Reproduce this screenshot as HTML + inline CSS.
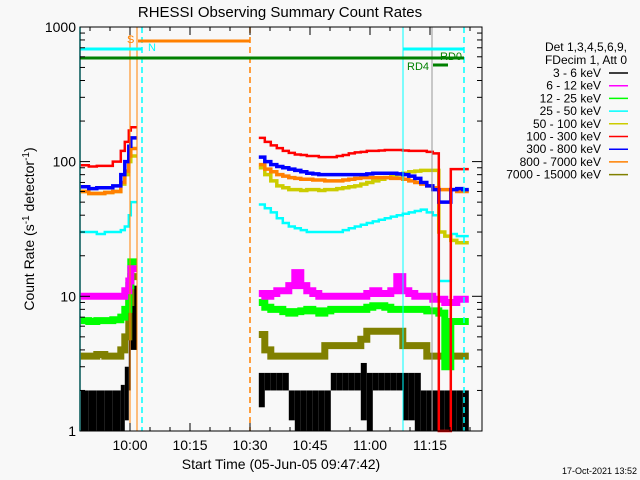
<!DOCTYPE html>
<html><head><meta charset="utf-8"><style>
body{margin:0;background:#f8f8f8;}
svg{display:block;font-family:"Liberation Sans",sans-serif;}
</style></head><body>
<svg id="chart" width="640" height="480" viewBox="0 0 640 480">
<rect width="640" height="480" fill="#f8f8f8"/>
<text x="280" y="17" font-size="15" text-anchor="middle" fill="#000">RHESSI Observing Summary Count Rates</text>
<g id="plot"></g>
<g id="axes"></g>
<text x="0" y="0" font-size="14" text-anchor="middle" transform="translate(34,229) rotate(-90)">Count Rate (s<tspan dy="-5" font-size="10">-1</tspan><tspan dy="5"> detector</tspan><tspan dy="-5" font-size="10">-1</tspan><tspan dy="5">)</tspan></text>
<text x="281" y="469" font-size="14" text-anchor="middle">Start Time (05-Jun-05 09:47:42)</text>
<text x="637" y="474" font-size="9" text-anchor="end">17-Oct-2021 13:52</text>
<g id="legend"></g>
</svg>
<script>
const tA=[0,2,4,6,8,10,11,12,12.5];
const tB=[];for(let i=0;i<35;i++)tB.push(44.5+1.5*i);
const redA=[94,92,93,93,100,120,140,170,180];
const blueA=[65,63,64,64,66,80,100,130,150];
const orangeA=[60,58,58,59,60,70,85,110,125];
const yellowA=[60,58,58,59,60,68,80,100,110];
const cyanA=[30,30,29,30,30,31,33,40,50];
const magentaA=[10,10,10,10,10,10,11,13,16];
const greenA=[6.6,6.5,6.6,6.6,6.7,7,8,12,18];
const oliveA=[3.6,3.6,3.7,3.6,3.6,4,5,9,14];
const blackHiA=[2,2,2,2,2,2.2,3,6,12];
const blackLoA=[1,1,1,1,1,1,1.2,2,4];
const redB=[150,140,132,126,120,116,113,112,110,110,108,108,108,110,112,115,117,118,120,120,121,122,122,122,121,120,120,120,118,115,1,1,88,88,88];
const blueB=[108,100,95,92,90,88,86,84,82,81,80,80,80,80,80,80,80,80,81,82,82,82,82,81,80,78,75,70,66,62,50,50,62,63,62];
const orangeB=[95,88,84,80,78,76,75,74,74,73,73,72,72,72,73,74,75,76,76,76,76,76,75,75,74,72,70,68,66,64,62,62,62,60,60];
const yellowB=[90,80,72,66,64,62,62,61,62,62,61,62,62,63,64,65,66,68,70,72,74,76,78,80,82,84,85,86,86,86,30,28,26,25,25];
const cyanB=[48,45,42,38,35,33,32,31,30,30,30,30,30,30,31,32,33,34,35,36,37,38,39,40,41,42,43,44,42,40,13,13,29,28,28];
const magentaB=[10.5,10,10.5,11,11,12,15,12,11,10.5,10,10,10,10,10,10,10,10,10.5,11,10.5,10.5,11,14,11,10.5,10,10,10,9.5,9.5,9,9,9.5,9.5];
const greenB=[9,8.3,8,8,7.7,7.5,7.7,7.8,8,7.8,7.5,7.8,8,8,8,8,8,8,8.3,8.5,8.5,8.3,8,8,8,8,8,8,7.8,7.8,7.5,3,6.5,6.5,6.5];
const oliveB=[5.2,4,3.6,3.6,3.6,3.6,3.6,3.6,3.6,3.6,3.6,4.3,4.3,4.3,4.3,4.3,4.3,4.8,5.5,5.5,5.5,5.5,5.5,5.5,4.3,4.3,4.3,4.3,3.6,3.6,3.6,3.6,3.6,3.6,3.6];
const blackHiB=[2.7,2.7,2.7,2.7,2.7,2,2,2,2,2,2,2,2.7,2.7,2.7,2.7,2.7,3.2,2.7,2.7,2.7,2.7,2.7,2.7,2.7,2.7,2.7,2,2,2,2,2,2,2,2];
const blackLoB=[1.5,2,2,2,2,1.2,1,1,1,1,1,1,2,2,2,2,2,1.2,1,2,2,2,2,2,1.2,1.2,1,1,1,1,1,1,1,1,1];
const yTickLabels=["1","10","100","1000"];
const xTickLabels=["10:00","10:15","10:30","10:45","11:00","11:15"];
const legendLabels=["3 - 6 keV","6 - 12 keV","12 - 25 keV","25 - 50 keV","50 - 100 keV","100 - 300 keV","300 - 800 keV","800 - 7000 keV","7000 - 15000 keV"];
const legendColors=["#000000","#ff00ff","#00ff00","#00ffff","#cccc00","#ff0000","#0000ff","#ff8000","#808000"];

const NS="http://www.w3.org/2000/svg";
const L=80,R=482,T=27,B=431;
const xs=t=>80.8+4*t;
const ys=v=>B-134.7*Math.log10(v);
const plot=document.getElementById('plot'),axes=document.getElementById('axes'),leg=document.getElementById('legend');
function mk(tag,attrs,parent){const e=document.createElementNS(NS,tag);for(const k in attrs)e.setAttribute(k,attrs[k]);parent.appendChild(e);return e;}
function step(ts,vs,color,w,name){
  let d='';
  for(let i=0;i<ts.length;i++){const x=xs(ts[i]),y=Math.min(B,ys(vs[i]));
    const x2=i<ts.length-1?xs(ts[i+1]):x+6;
    d+=(i?'L':'M')+x+','+y+'L'+x2+','+y;}
  const p=mk('path',{d:d,fill:'none',stroke:color,'stroke-width':w},plot);
  
  
}
function band(ts,lo,hi,color,name){
  const g=mk('g',{},plot);
  
  
  for(let i=0;i<ts.length;i++){const x=xs(ts[i]);const x2=i<ts.length-1?xs(ts[i+1]):x+6;
    const y1=ys(hi[i]),y2=Math.min(B,ys(lo[i]));
    mk('rect',{x:x,y:y1,width:x2-x,height:Math.max(1,y2-y1),fill:color},g);}
}
[[tA,blackLoA,blackHiA,'a'],[tB,blackLoB,blackHiB,'b']].forEach(s=>band(s[0],s[1],s[2],'#000','black-3-6kev-'+s[3]));
[['olive',oliveA,oliveB,'#808000',7],['green',greenA,greenB,'#00ff00',7],['magenta',magentaA,magentaB,'#ff00ff',7],
 ['cyan',cyanA,cyanB,'#00ffff',2.5],['yellow',yellowA,yellowB,'#cccc00',3.5],['orange',orangeA,orangeB,'#ff8000',3.5],
 ['blue',blueA,blueB,'#0000ff',3.5],['red',redA,redB,'#ff0000',2.5]].forEach(s=>{
  step(tA,s[1],s[3],s[4],s[0]+'-series-a');step(tB,s[2],s[3],s[4],s[0]+'-series-b');});
const ann=[['line',{x1:80,y1:T,x2:80,y2:B,stroke:'#00ffff','stroke-width':1.5},'cyan-line-1'],
['line',{x1:403,y1:T,x2:403,y2:B,stroke:'#00ffff','stroke-width':1},'cyan-line-2'],
['line',{x1:142,y1:T,x2:142,y2:B,stroke:'#00ffff','stroke-width':1.5,'stroke-dasharray':'6,4'},'cyan-dash-1'],
['line',{x1:464,y1:T,x2:464,y2:B,stroke:'#00ffff','stroke-width':1.5,'stroke-dasharray':'6,4'},'cyan-dash-2'],
['line',{x1:130,y1:T,x2:130,y2:B,stroke:'#ff8000','stroke-width':1},'orange-line-1'],
['line',{x1:137,y1:T,x2:137,y2:B,stroke:'#ff8000','stroke-width':1},'orange-line-2'],
['line',{x1:250,y1:T,x2:250,y2:B,stroke:'#ff8000','stroke-width':1.5,'stroke-dasharray':'6,4'},'orange-dash'],
['line',{x1:432,y1:T,x2:432,y2:B,stroke:'#999','stroke-width':1},'gray-line'],
['line',{x1:138,y1:41,x2:250,y2:41,stroke:'#ff8000','stroke-width':3},'saa-bar'],
['line',{x1:80,y1:49,x2:142,y2:49,stroke:'#00ffff','stroke-width':3},'night-bar-1'],
['line',{x1:403,y1:49,x2:464,y2:49,stroke:'#00ffff','stroke-width':3},'night-bar-2'],
['line',{x1:80,y1:58,x2:464,y2:58,stroke:'#008000','stroke-width':3},'rd0-bar'],
['line',{x1:433,y1:65,x2:448,y2:65,stroke:'#008000','stroke-width':3},'rd4-bar']];
ann.forEach(a=>{const e=mk(a[0],a[1],plot);});
const txt=[[127,43,'S','#ff8000','saa-label'],[148,51,'N','#00ffff','night-label'],[440,60,'RD0','#008000','rd0-label'],[407,70,'RD4','#008000','rd4-label']];
txt.forEach(a=>{const e=mk('text',{x:a[0],y:a[1],'font-size':11,fill:a[3]},plot);e.textContent=a[2];});
const fr=mk('rect',{x:L,y:T,width:R-L,height:B-T,fill:'none',stroke:'#000','stroke-width':1},axes);

for(let d=0;d<3;d++)for(let m=1;m<10;m++){const y=ys(m*Math.pow(10,d));const len=m===1?10:5;
  mk('line',{x1:L,y1:y,x2:L+len,y2:y,stroke:'#000'},axes);mk('line',{x1:R,y1:y,x2:R-len,y2:y,stroke:'#000'},axes);}
yTickLabels.forEach((s,i)=>{const e=mk('text',{x:76,y:ys(Math.pow(10,i))+5,'font-size':14,'text-anchor':'end'},axes);e.textContent=s;
  });
for(let t=12.3-10;t<101;t+=5){const x=xs(t);const maj=Math.abs(((t-12.3)/15)-Math.round((t-12.3)/15))<0.01;const len=maj?8:4;
  mk('line',{x1:x,y1:B,x2:x,y2:B-len,stroke:'#000'},axes);mk('line',{x1:x,y1:T,x2:x,y2:T+len,stroke:'#000'},axes);}
xTickLabels.forEach((s,i)=>{const e=mk('text',{x:xs(12.3+15*i),y:450,'font-size':14,'text-anchor':'middle'},axes);e.textContent=s;
  });
const h1=mk('text',{x:627,y:51,'font-size':12,'text-anchor':'end'},leg);h1.textContent='Det 1,3,4,5,6,9,';

const h2=mk('text',{x:627,y:64,'font-size':12,'text-anchor':'end'},leg);h2.textContent='FDecim 1, Att 0';

legendLabels.forEach((s,i)=>{const y=73+12.7*i;
  const e=mk('text',{x:601,y:y+4,'font-size':12,'text-anchor':'end'},leg);e.textContent=s;
  
  mk('line',{x1:609,y1:y,x2:628,y2:y,stroke:legendColors[i],'stroke-width':1.5},leg);});
</script>
</body></html>
